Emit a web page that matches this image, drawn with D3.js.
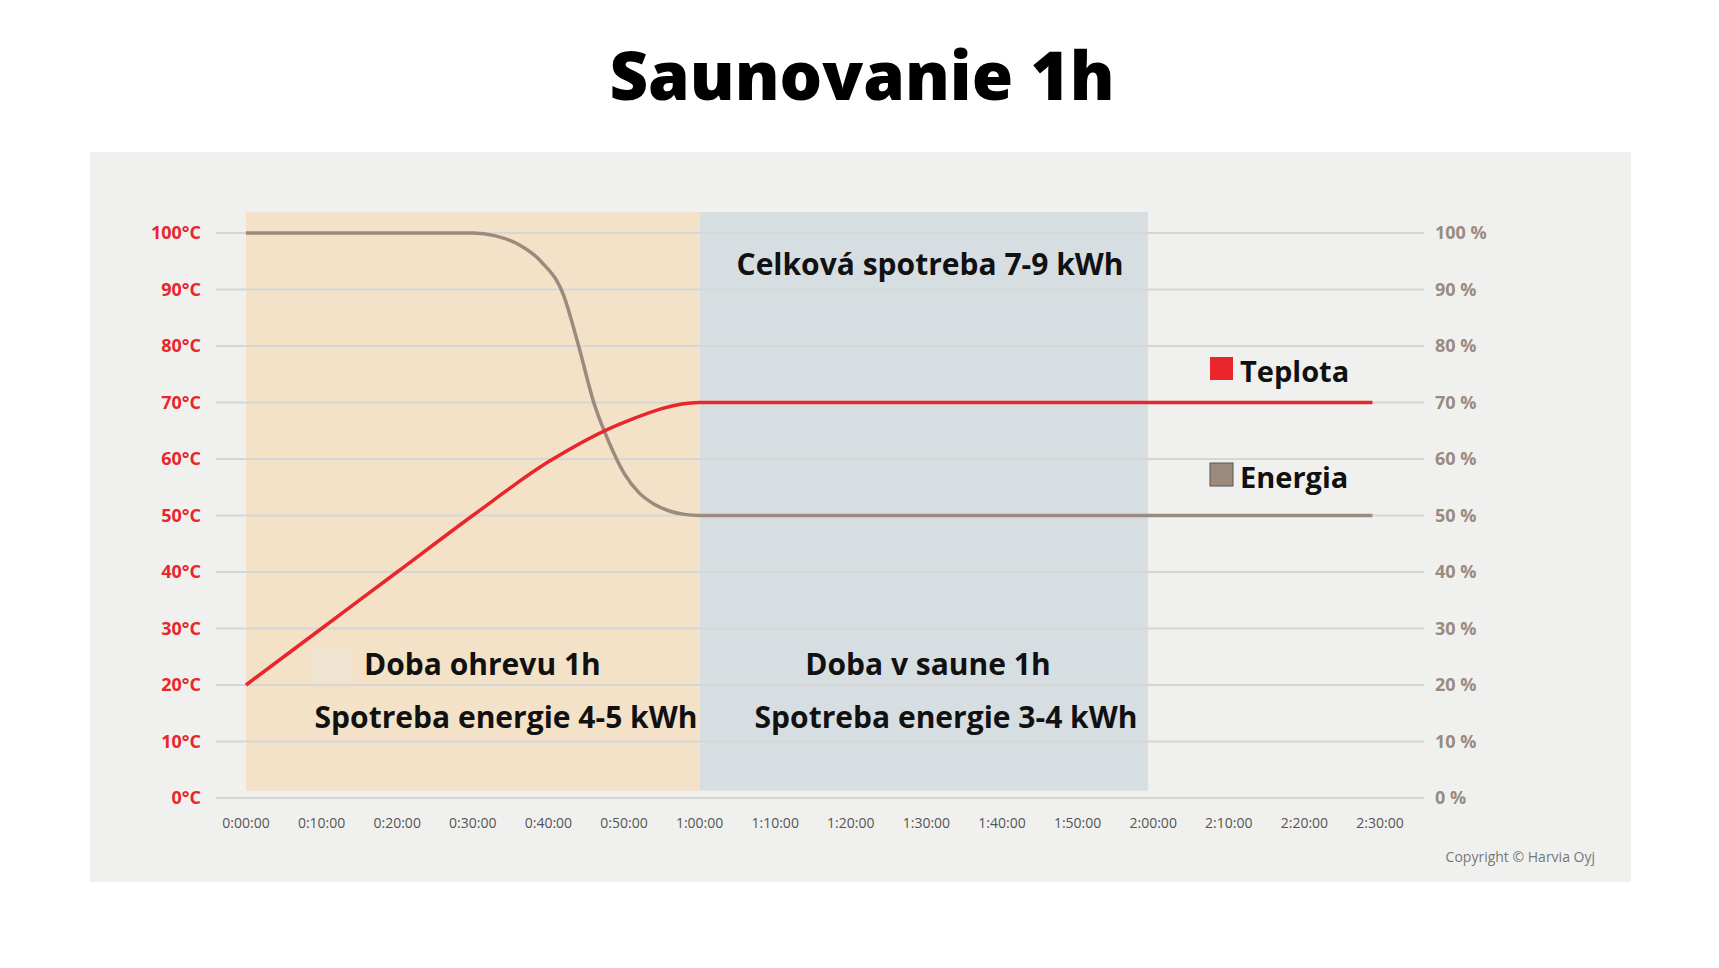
<!DOCTYPE html>
<html><head><meta charset="utf-8">
<script src="https://cdn.jsdelivr.net/npm/d3@7"></script>
<style>body{margin:0;background:#fff}svg{display:block}text{font-family:"Open Sans",sans-serif}</style>
</head><body><svg id="c" width="1719" height="968"></svg>
<script>
const title = "Saunovanie 1h";
const timeMinutes = [0,10,20,30,40,50,60,70,80,90,100,110,120,130,140,149];
const temperature = [20,30,40,50,59.5,66.5,70,70,70,70,70,70,70,70,70,70];
const energyMinutes = [0,25,30,33,36,39,42,44,46,48,50,52,54,56,58,60,80,100,120,149];
const energy = [100,100,100,99.5,98,95,89,80,70,63,57.5,54,52,50.8,50.2,50,50,50,50,50];
const xTicks = ["0:00:00","0:10:00","0:20:00","0:30:00","0:40:00","0:50:00","1:00:00","1:10:00","1:20:00","1:30:00","1:40:00","1:50:00","2:00:00","2:10:00","2:20:00","2:30:00"];
const yTicks = [0,10,20,30,40,50,60,70,80,90,100];
const bands = [{from:0,to:60,color:"#f3e2c8"},{from:60,to:119.3,color:"#d7dee2"}];
const legend = [{name:"Teplota",color:"#e8262b"},{name:"Energia",color:"#9b8b7f"}];

const svg = d3.select("#c");
const x = d3.scaleLinear().domain([0,150]).range([246,1380]);
const y = d3.scaleLinear().domain([0,100]).range([798,233]);
const red="#e8262b", brown="#9b8b7f";

svg.append("text").attr("x",862).attr("y",100).attr("text-anchor","middle")
  .attr("font-size",67).attr("font-weight",800).text(title);
svg.append("rect").attr("x",90).attr("y",152).attr("width",1541).attr("height",730).attr("fill","#f0f1ef");

bands.forEach(b=>svg.append("rect").attr("x",x(b.from)).attr("width",x(b.to)-x(b.from))
  .attr("y",y(103.7)).attr("height",y(1.3)-y(103.7)).attr("fill",b.color));

yTicks.forEach(t=>{
  svg.append("line").attr("x1",216).attr("x2",1424).attr("y1",y(t)).attr("y2",y(t))
    .attr("stroke","#d6d6d4").attr("stroke-width",2);
  svg.append("text").attr("x",201).attr("y",y(t)+6).attr("text-anchor","end").attr("fill",red)
    .attr("font-size",18).attr("font-weight",700).text(t+"°C");
  svg.append("text").attr("x",1435).attr("y",y(t)+6).attr("fill",brown)
    .attr("font-size",18).attr("font-weight",700).text(t+" %");
});
xTicks.forEach((t,i)=>svg.append("text").attr("x",x(i*10)).attr("y",828).attr("text-anchor","middle")
  .attr("fill","#555").attr("font-size",14).text(t));

const line=d3.line().curve(d3.curveMonotoneX);
svg.append("path").attr("d",line(energyMinutes.map((m,i)=>[x(m),y(energy[i])])))
  .attr("fill","none").attr("stroke",brown).attr("stroke-width",3.5);
svg.append("path").attr("d",line(timeMinutes.map((m,i)=>[x(m),y(temperature[i])])))
  .attr("fill","none").attr("stroke",red).attr("stroke-width",3.5);

const lab=(t,xx,yy,anchor)=>svg.append("text").attr("x",xx).attr("y",yy).attr("text-anchor",anchor||"start")
  .attr("font-size",30).attr("font-weight",700).attr("fill","#111").text(t);
lab("Celková spotreba 7-9 kWh",930,275,"middle");
svg.append("rect").attr("x",312).attr("y",649).attr("width",38).attr("height",33).attr("fill","#efe3d2");
lab("Doba ohrevu 1h",364,675);
lab("Spotreba energie 4-5 kWh",506,728,"middle");
lab("Doba v saune 1h",928,675,"middle");
lab("Spotreba energie 3-4 kWh",946,728,"middle");

legend.forEach((l,i)=>{
  const yy=[357,463][i];
  svg.append("rect").attr("x",1210).attr("y",yy).attr("width",23).attr("height",23)
    .attr("fill",l.color).attr("stroke","#555").attr("stroke-width",i?1:0);
  lab(l.name,1240,yy+25).attr("font-size",29);
});
svg.append("text").attr("x",1595).attr("y",862).attr("text-anchor","end").attr("fill","#777")
  .attr("font-size",14).text("Copyright © Harvia Oyj");
</script></body></html>
